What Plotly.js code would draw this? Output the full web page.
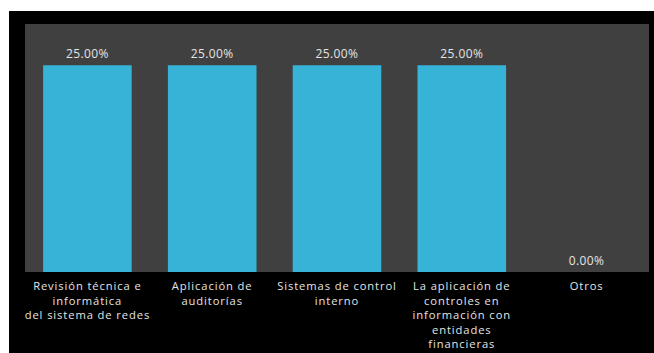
<!DOCTYPE html>
<html>
<head>
<meta charset="utf-8">
<script src="https://cdn.plot.ly/plotly-3.0.1.min.js"></script>
<style>
html,body{margin:0;padding:0;background:#ffffff;width:654px;height:353px;overflow:hidden;}
#chart{position:absolute;left:9px;top:11px;width:645px;height:342px;}
#chart .xtick text{letter-spacing:0.9px;}
#chart .bartext text, #chart text.bartext{letter-spacing:0.4px;}
</style>
</head>
<body>
<div id="chart"></div>
<script>
var categories = [
  "Revisión técnica e<br>informática<br>del sistema de redes",
  "Aplicación de<br>auditorías",
  "Sistemas de control<br>interno",
  "La aplicación de<br>controles en<br>información con<br>entidades<br>financieras",
  "Otros"
];
var values = [25, 25, 25, 25, 0];
var valueLabels = ["25.00%", "25.00%", "25.00%", "25.00%", "0.00%"];

var trace = {
  type: "bar",
  x: categories,
  y: values,
  text: valueLabels,
  textposition: "outside",
  cliponaxis: false,
  textfont: {family: "Open Sans, sans-serif", size: 12, color: "#e4e4e4"},
  marker: {color: "#37b3d7", line: {color: "#2b94b3", width: 0}},
  width: 0.71,
  hoverinfo: "none"
};

var layout = {
  width: 645,
  height: 342,
  margin: {l: 16, r: 5, t: 13, b: 81},
  paper_bgcolor: "#000000",
  plot_bgcolor: "#404040",
  showlegend: false,
  font: {family: "Open Sans, sans-serif", size: 12, color: "#e4e4e4"},
  xaxis: {
    type: "category",
    showgrid: false,
    zeroline: false,
    showline: false,
    ticks: "",
    tickangle: 0,
    ticklabelstandoff: 6,
    tickfont: {family: "Open Sans, sans-serif", size: 11.2, color: "#e4e4e4"},
    automargin: false
  },
  yaxis: {
    range: [0, 30],
    showgrid: false,
    zeroline: false,
    showline: false,
    showticklabels: false,
    ticks: ""
  }
};

Plotly.newPlot("chart", [trace], layout, {staticPlot: true, displayModeBar: false});
</script>
</body>
</html>
